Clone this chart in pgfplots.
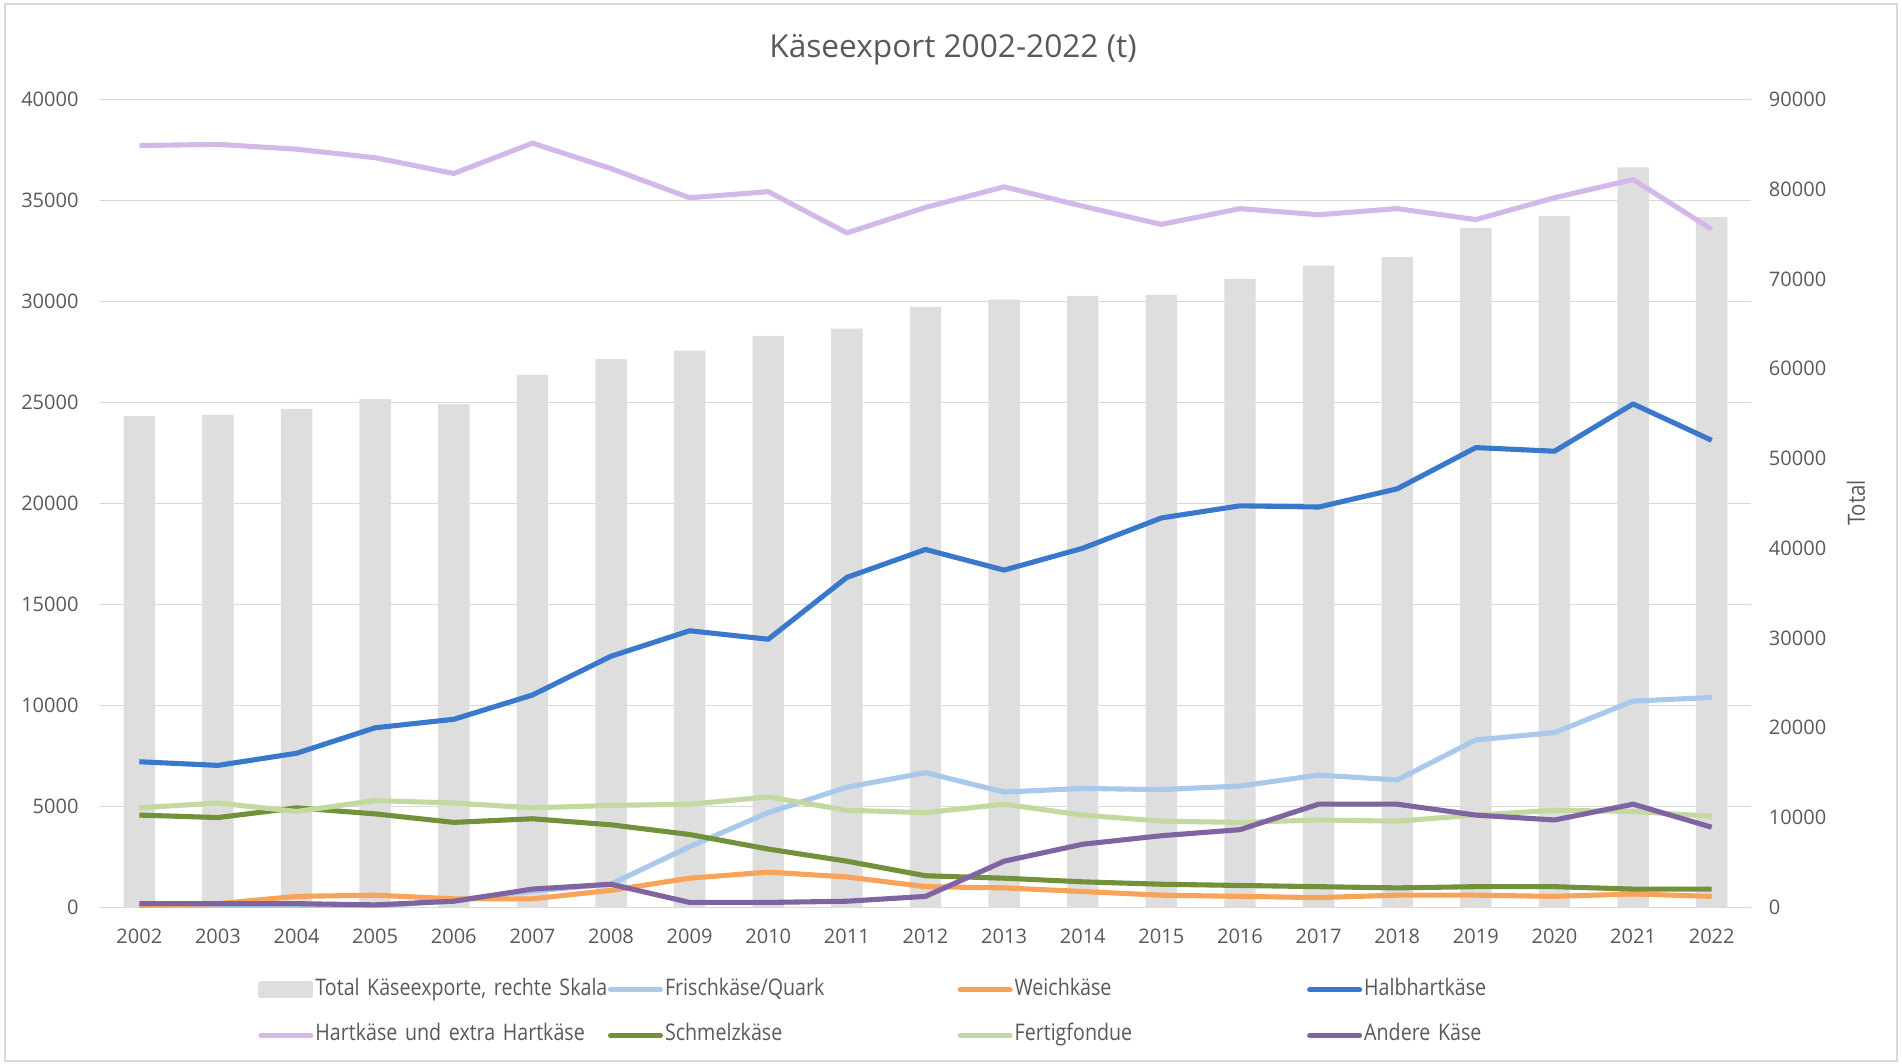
\documentclass[border=0pt]{standalone}
\usepackage{pgfplots}
\pgfplotsset{compat=1.18}
\usepackage{fontspec}
\setmainfont{Open Sans}
\newfontfamily\legfont[FakeStretch=0.86]{Open Sans}
\definecolor{barc}{HTML}{DEDEDE}
\definecolor{frischc}{HTML}{A9C8EC}
\definecolor{weichc}{HTML}{F9A35A}
\definecolor{halbc}{HTML}{3A78CC}
\definecolor{hartc}{HTML}{D4B8EA}
\definecolor{schmc}{HTML}{71913A}
\definecolor{fertc}{HTML}{C3D9A0}
\definecolor{andc}{HTML}{8064A2}
\definecolor{txt}{HTML}{595959}
\definecolor{gridc}{HTML}{D9D9D9}
\begin{document}
\begin{tikzpicture}
\useasboundingbox (0,0) rectangle (38.04cm,21.28cm);
\draw[gridc, line width=0.7pt] (0.1cm,0.06cm) rectangle (37.94cm,21.2cm);
\pgfplotsset{common/.style={scale only axis, width=33.02cm, height=16.156cm,
  at={(2cm,3.134cm)}, anchor=south west, xmin=2001.5, xmax=2022.5,
  major tick length=0pt,
  ticklabel style={font=\fontsize{11.4}{13}\selectfont, text=txt},
  /pgf/number format/assume math mode=true, /pgf/number format/1000 sep={},
  scaled ticks=false}}
\begin{axis}[common, ymin=0, ymax=90000, axis x line=none, axis y line*=right,
  y axis line style={draw=none},
  ytick={0,10000,20000,30000,40000,50000,60000,70000,80000,90000},
  yticklabel style={anchor=west, inner sep=0pt, xshift=10pt},
  extra y ticks={0,11250,22500,33750,45000,56250,67500,78750,90000},
  extra y tick labels={},
  extra y tick style={grid=major, major grid style={gridc, line width=0.75pt}}]
\addplot[ybar, bar width=0.4, fill=barc, draw=none] coordinates {
(2002,54730) (2003,54860) (2004,55540) (2005,56620) (2006,56080) (2007,59320)
(2008,61080) (2009,62030) (2010,63650) (2011,64460) (2012,66890) (2013,67700)
(2014,68110) (2015,68240) (2016,70000) (2017,71490) (2018,72430) (2019,75680)
(2020,77030) (2021,82430) (2022,76890)};
\end{axis}
\begin{axis}[common, ymin=0, ymax=40000, axis x line*=bottom, axis y line*=left,
  axis line style={draw=none},
  xtick={2002,2003,...,2022},
  ytick={0,5000,10000,15000,20000,25000,30000,35000,40000},
  yticklabel style={anchor=east, inner sep=0pt, xshift=-12pt},
  xticklabel style={anchor=north, inner sep=0pt, yshift=-12pt},
  legend columns=4, legend cell align=left,
  legend style={at={(0.0957,-0.1304)}, anchor=west, draw=none, fill=none,
    inner sep=0pt, column sep=0pt, row sep=4.9mm,
    font=\legfont\fontsize{13}{15}\selectfont, text=txt,
    nodes={inner sep=0pt, text height=9pt, text depth=3pt, text width=5.85cm, align=left},
    /tikz/every odd column/.append style={column sep=0.04cm}},
  legend image code/.code={\draw[#1, line cap=round] (0cm,0cm) -- (1.0cm,0cm);},
  every axis plot/.append style={line width=2.9pt, line join=round, mark=none}]
\addlegendimage{legend image code/.code={\fill[barc] (0cm,-0.12cm) rectangle (1.0cm,0.12cm);}}
\addlegendentry{Total Käseexporte, rechte Skala}
\addplot[color=frischc] coordinates {
(2002,30) (2003,40) (2004,40) (2005,40) (2006,350) (2007,800) (2008,1150)
(2009,3003) (2010,4685) (2011,5946) (2012,6667) (2013,5706) (2014,5886)
(2015,5826) (2016,6006) (2017,6547) (2018,6306) (2019,8288) (2020,8649)
(2021,10210) (2022,10390)};
\addlegendentry{Frischkäse/Quark}
\addplot[color=weichc] coordinates {
(2002,100) (2003,180) (2004,540) (2005,600) (2006,420) (2007,420) (2008,840)
(2009,1441) (2010,1742) (2011,1502) (2012,1021) (2013,961) (2014,781)
(2015,600) (2016,540) (2017,480) (2018,600) (2019,600) (2020,540)
(2021,660) (2022,540)};
\addlegendentry{Weichkäse}
\addplot[color=halbc] coordinates {
(2002,7207) (2003,7027) (2004,7628) (2005,8889) (2006,9309) (2007,10511)
(2008,12432) (2009,13694) (2010,13273) (2011,16336) (2012,17718) (2013,16697)
(2014,17778) (2015,19279) (2016,19880) (2017,19820) (2018,20721) (2019,22763)
(2020,22583) (2021,24925) (2022,23123)};
\addlegendentry{Halbhartkäse}
\addplot[color=hartc] coordinates {
(2002,37718) (2003,37778) (2004,37538) (2005,37117) (2006,36336) (2007,37838)
(2008,36577) (2009,35135) (2010,35435) (2011,33393) (2012,34655) (2013,35676)
(2014,34715) (2015,33814) (2016,34595) (2017,34294) (2018,34595) (2019,34054)
(2020,35135) (2021,36036) (2022,33574)};
\addlegendentry{Hartkäse und extra Hartkäse}
\addplot[color=schmc] coordinates {
(2002,4565) (2003,4444) (2004,4925) (2005,4625) (2006,4204) (2007,4384)
(2008,4084) (2009,3604) (2010,2883) (2011,2282) (2012,1562) (2013,1441)
(2014,1261) (2015,1141) (2016,1081) (2017,1021) (2018,961) (2019,1021)
(2020,1021) (2021,901) (2022,901)};
\addlegendentry{Schmelzkäse}
\addplot[color=fertc] coordinates {
(2002,4925) (2003,5165) (2004,4745) (2005,5285) (2006,5165) (2007,4925)
(2008,5045) (2009,5105) (2010,5465) (2011,4805) (2012,4685) (2013,5105)
(2014,4565) (2015,4264) (2016,4204) (2017,4324) (2018,4264) (2019,4565)
(2020,4805) (2021,4745) (2022,4505)};
\addlegendentry{Fertigfondue}
\addplot[color=andc] coordinates {
(2002,180) (2003,180) (2004,180) (2005,120) (2006,300) (2007,901) (2008,1141)
(2009,240) (2010,240) (2011,300) (2012,540) (2013,2282) (2014,3123)
(2015,3544) (2016,3844) (2017,5105) (2018,5105) (2019,4565) (2020,4324)
(2021,5105) (2022,3964)};
\addlegendentry{Andere Käse}
\end{axis}
\node[text=txt, font=\fontsize{18}{21}\selectfont] at (19.06cm,20.29cm) {Käseexport 2002-2022 (t)};
\node[text=txt, font=\legfont\fontsize{13.5}{15}\selectfont, rotate=90] at (37.12cm,11.22cm) {Total};
\end{tikzpicture}
\end{document}
